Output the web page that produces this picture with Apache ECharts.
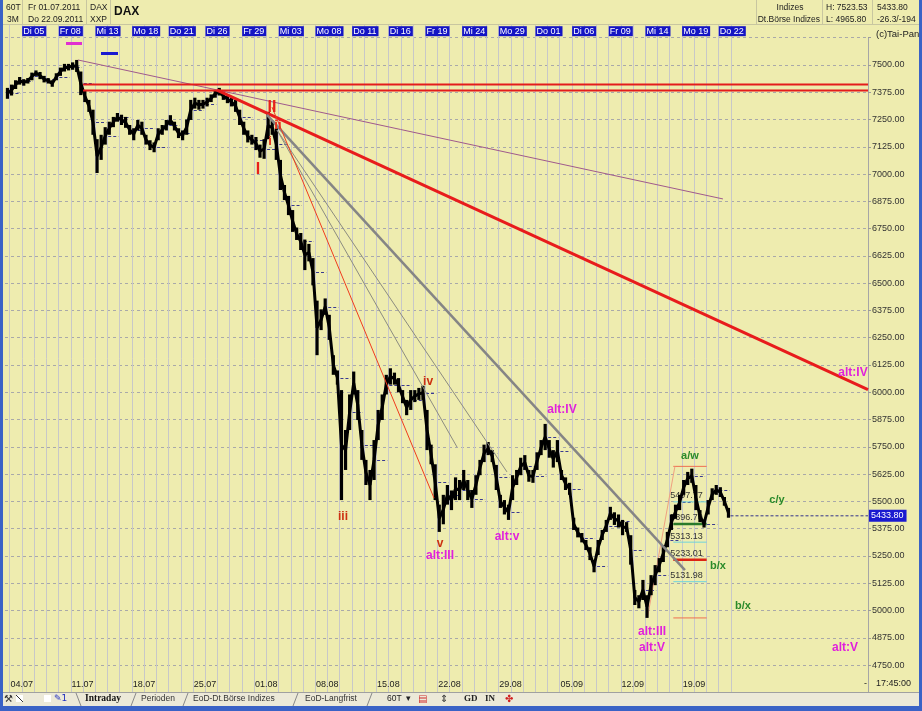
<!DOCTYPE html>
<html><head><meta charset="utf-8">
<script src="https://cdn.jsdelivr.net/npm/echarts/dist/echarts.min.js"></script>
<style>html,body{margin:0;padding:0;background:#EEECAF;overflow:hidden}#c{width:922px;height:711px}</style>
</head><body><div id="c"></div>
<script>
// ---------- DATA ----------
const tradingDays = ['01.07','04.07','05.07','06.07','07.07','08.07','11.07','12.07','13.07','14.07','15.07','18.07','19.07','20.07','21.07','22.07','25.07','26.07','27.07','28.07','29.07',
 '01.08','02.08','03.08','04.08','05.08','08.08','09.08','10.08','11.08','12.08','15.08','16.08','17.08','18.08','19.08','22.08','23.08','24.08','25.08','26.08','29.08','30.08','31.08',
 '01.09','02.09','05.09','06.09','07.09','08.09','09.09','12.09','13.09','14.09','15.09','16.09','19.09','20.09','21.09','22.09'];
// [low, high] per third of a trading day; first entry = last third of 01.07
const julyBars = [[7345,7395],[7360,7410],[7390,7430],[7410,7445],[7405,7435],[7415,7440],[7430,7465],[7450,7475],[7435,7468],[7420,7450],
 [7415,7440],[7400,7430],[7430,7462],[7450,7488],[7470,7505],[7475,7505],[7478,7512],[7468,7523],[7362,7470],[7330,7385],
 [7285,7340],[7180,7295],[7005,7160],[7065,7180],[7135,7215],[7180,7240],[7215,7262],[7240,7280],[7225,7272],[7212,7262],
 [7180,7225],[7155,7210],[7200,7248],[7180,7240],[7135,7180],[7110,7155],[7100,7145],[7155,7210],[7180,7225],[7200,7248],
 [7225,7270],[7200,7240],[7165,7210],[7155,7200],[7180,7250],[7248,7340],[7300,7350],[7295,7340],[7300,7340],[7310,7350],
 [7330,7365],[7350,7385],[7360,7395],[7340,7375],[7325,7362],[7310,7350],[7285,7340],[7225,7295],[7180,7240],[7145,7200],[7135,7180]];
const augustBars = [[7110,7170],[7075,7135],[7070,7160],[7160,7285],[7180,7245],[7065,7210],[6927,7065],[6881,6950],[6812,6900],[6735,6835],
 [6698,6755],[6652,6730],[6560,6700],[6600,6680],[6490,6615],[6170,6420],[6285,6380],[6355,6430],[6240,6355],[6080,6170],
 [6035,6100],[5506,6010],[5644,5827],[5827,5990],[5990,6095],[5873,6010],[5690,5827],[5575,5690],[5506,5644],[5598,5781],
 [5781,5919],[5873,5990],[5990,6080],[6035,6110],[6035,6090],[6000,6065],[5950,6010],[5895,5965],[5919,6010],[5955,6010],
 [5965,6020],[5965,6030],[5735,5919],[5670,5760],[5506,5670],[5360,5485],[5395,5530],[5485,5575],[5460,5550],[5506,5610],
 [5506,5598],[5552,5644],[5506,5598],[5470,5552],[5530,5620],[5620,5690],[5680,5760],[5712,5772],[5680,5735],[5552,5667],
 [5470,5530],[5440,5506],[5415,5485],[5506,5620],[5575,5644],[5620,5700],[5644,5712],[5590,5644],[5585,5644]];
const septemberBars = [[5644,5725],[5712,5781],[5735,5855],[5700,5781],[5655,5735],[5680,5781],[5598,5644],[5552,5610],[5530,5585],[5369,5425],
 [5335,5380],[5312,5355],[5277,5323],[5231,5290],[5175,5231],[5254,5323],[5323,5369],[5360,5415],[5415,5475],[5392,5450],
 [5380,5440],[5345,5415],[5360,5405],[5210,5345],[5025,5094],[5010,5070],[5048,5140],[4966,5070],[5070,5162],[5116,5208],
 [5175,5240],[5222,5300],[5290,5360],[5369,5440],[5420,5485],[5460,5530],[5530,5598],[5575,5635],[5585,5650],[5460,5575],
 [5405,5460],[5380,5415],[5440,5506],[5506,5560],[5530,5575],[5520,5565],[5480,5520],[5425,5470]];
const topTickLabels = [['05.07','Di 05'],['08.07','Fr 08'],['13.07','Mi 13'],['18.07','Mo 18'],['21.07','Do 21'],['26.07','Di 26'],['29.07','Fr 29'],
 ['03.08','Mi 03'],['08.08','Mo 08'],['11.08','Do 11'],['16.08','Di 16'],['19.08','Fr 19'],['24.08','Mi 24'],['29.08','Mo 29'],
 ['01.09','Do 01'],['06.09','Di 06'],['09.09','Fr 09'],['14.09','Mi 14'],['19.09','Mo 19'],['22.09','Do 22']];
const bottomTickLabels = ['04.07','11.07','18.07','25.07','01.08','08.08','15.08','22.08','29.08','05.09','12.09','19.09'];
const lastPrice = 5433.80, periodHigh = 7523.53, periodLow = 4965.80;
// trend lines: [tradingDayPosition, price]
const purpleLine = [[6.6,7523],[59.38,6886]];
const resistanceUpper = [[7.02,7411],[71.25,7411]];
const resistanceLower = [[7.02,7383],[71.25,7383]];
const mainDownTrend = [[17.98,7385],[71.25,6012]];
const greyTrend = [[22.07,7271],[56.27,5185]];
const fanLineA = [[22.89,7202],[37.62,5749]];
const fanLineB = [[22.89,7202],[41.71,5635]];
const redFanLine = [[22.48,7307],[35.74,5515]];
const fibAnchor = [[53.2,4966],[55.45,5660]];
const fibLevels = [5660.46,5497.77,5396.70,5313.13,5233.01,5131.98,4965.80];
const fibTexts = ['','5497.77','5396.70','5313.13','5233.01','5131.98',''];
const fibSpan = [55.32,58.05];
const impulseLabels = [[21.33,7019,'I'],[22.48,7303,'II']];
const minorLabels = [[22.32,7150,'i'],[22.97,7225,'ii']];
const subwaveLabels = [[28.29,5428,'iii'],[35.25,6047,'iv'],[36.23,5305,'v']];
const altLabels = [[36.23,5250,'alt:III'],[41.71,5337,'alt:v'],[46.21,5919,'alt:IV'],[53.58,4901,'alt:III'],[53.58,4828,'alt:V'],[70.02,6088,'alt:IV'],[69.37,4828,'alt:V']];
const correctionLabels = [[56.68,5708,'a/w'],[58.97,5204,'b/x'],[61.02,5020,'b/x'],[63.80,5506,'c/y']];

// ---------- BUILD ----------
const FONT = '"Liberation Sans", Arial, sans-serif';
const allBars = julyBars.concat(augustBars, septemberBars);
const firstSlot = 2, slotsPerDay = 3;
const barData = allBars.map((b,i)=>[(firstSlot+i)/slotsPerDay,(firstSlot+i+1)/slotsPerDay,b[0],b[1]]);
const midPath = barData.map(b=>[(b[0]+b[1])/2,(b[2]+b[3])/2]);
const closeData = [];
for (let d=0; d<tradingDays.length-1; d++){
  const i = d*slotsPerDay + (slotsPerDay-1) - firstSlot;
  if (i>=0 && i<allBars.length){ const b=allBars[i]; closeData.push([d+1,d+2,(b[0]+b[1])/2]); }
}
const dayBounds = tradingDays.map((_,i)=>[i]).concat([[tradingDays.length]]);
const topData = topTickLabels.map(t=>[tradingDays.indexOf(t[0]), t[1]]);
const bottomData = bottomTickLabels.map(t=>[tradingDays.indexOf(t), t]);

function textSeries(name, data, color, size, z){
  return {type:'custom', name, silent:true, clip:false, z:z||6, data: data.map(a=>[a[0],a[1]]),
    renderItem:(p,api)=>{const c=api.coord([api.value(0),api.value(1)]);
      return {type:'text', x:c[0], y:c[1], style:{text:data[p.dataIndex][2], fill:color, font:'bold '+size+'px '+FONT, align:'center', verticalAlign:'middle'}};}};
}
function seg(name,data,color,width,z){return {type:'line',name,data,symbol:'none',silent:true,z:z||4,lineStyle:{color,width},animation:false};}

const fibColors = ['#ee7050','#70d4dc','#2a7a2a','#70d4dc','#dc2414','#70d4dc','#ee7050'];
const fibWidths = [1,1,2.5,1,2.5,1,1];

const chart = echarts.init(document.getElementById('c'), null, {renderer:'canvas'});
const option = {
  backgroundColor:'#EEECAF', animation:false,
  grid:{left:5, right:54, top:37.7, bottom:18.7, containLabel:false},
  xAxis:{type:'value', min:0.6333, max:71.25, show:false},
  yAxis:{type:'value', position:'right', min:4625, max:7625, interval:125, scale:false,
    axisLine:{show:true, lineStyle:{color:'#a6a6a6'}},
    axisTick:{show:true, length:3, lineStyle:{color:'#9a9a9a'}},
    axisLabel:{margin:4, color:'#333', fontSize:9, fontFamily:FONT, formatter:v=>(v<4700||v>7600)?'':v.toFixed(2)},
    splitLine:{show:true, lineStyle:{color:'#a9a9a9', type:[3,3], width:1}}},
  series:[
    {type:'custom', name:'dayGrid', silent:true, clip:false, z:0, data:dayBounds,
     renderItem:(p,api)=>{const x=Math.round(api.coord([api.value(0),7625])[0])+0.5; const cs=p.coordSys;
       return {type:'line', shape:{x1:x,y1:cs.y-13,x2:x,y2:cs.y+cs.height}, style:{stroke:'#c8c8c8', lineWidth:1}};}},
    {type:'custom', name:'topLabels', silent:true, clip:false, z:2, data:topData.map(d=>[d[0]]),
     renderItem:(p,api)=>{const x=api.coord([api.value(0),7625])[0]; 
       return {type:'text', x:x+0.5, y:p.coordSys.y-6.5, style:{text:topData[p.dataIndex][1], fill:'#fff', font:'9px '+FONT, align:'left', verticalAlign:'middle', backgroundColor:'#1414c4', padding:[1,2,0,1]}};}},
    {type:'custom', name:'bottomLabels', silent:true, clip:false, z:2, data:bottomData.map(d=>[d[0]]),
     renderItem:(p,api)=>{const x=api.coord([api.value(0),7625])[0];
       return {type:'text', x:x+1, y:p.coordSys.y+p.coordSys.height-8, style:{text:bottomData[p.dataIndex][1], fill:'#222', font:'9px '+FONT, align:'left', verticalAlign:'middle'}};}},
    {type:'custom', name:'prevClose', silent:true, z:1, data:closeData,
     renderItem:(p,api)=>{const a=api.coord([api.value(0),api.value(2)]), b=api.coord([api.value(1),api.value(2)]);
       const y=Math.round(a[1])+0.5; return {type:'line', shape:{x1:a[0]+1,y1:y,x2:b[0]-1,y2:y}, style:{stroke:'#3a3a90', lineWidth:1, lineDash:[3,2]}};}},
    {type:'custom', name:'fib', silent:true, clip:false, z:1, data:fibLevels.map(v=>[v]),
     renderItem:(p,api)=>{const i=p.dataIndex; const a=api.coord([fibSpan[0],api.value(0)]), b=api.coord([fibSpan[1],api.value(0)]);
       const kids=[{type:'line', shape:{x1:a[0],y1:a[1],x2:b[0],y2:b[1]}, style:{stroke:fibColors[i], lineWidth:fibWidths[i]}}];
       if (fibTexts[i]) kids.push({type:'text', x:a[0]-3, y:a[1]-6, style:{text:fibTexts[i], fill:'#333', font:'9px '+FONT, align:'left', verticalAlign:'middle'}});
       return {type:'group', children:kids};}},
    seg('fibAnchor', fibAnchor, '#f0a080', 1, 2),
    {type:'line', name:'DAXpath', data:midPath, symbol:'none', silent:true, z:3, lineStyle:{color:'#000', width:3}},
    {type:'custom', name:'DAX', silent:true, z:3, data:barData,
     renderItem:(p,api)=>{const a=api.coord([api.value(0),api.value(3)]), b=api.coord([api.value(1),api.value(2)]);
       const cx=(a[0]+b[0])/2, w=3.2;
       return {type:'rect', shape:{x:cx-w/2, y:a[1], width:w, height:Math.max(1.5,b[1]-a[1])}, style:{fill:'#000'}};}},
    seg('purple', purpleLine, '#a05a8c', 1),
    seg('resUpper', resistanceUpper, '#e41c1c', 2),
    seg('resLower', resistanceLower, '#e41c1c', 2),
    seg('mainDown', mainDownTrend, '#e81c1c', 3),
    seg('greyTrend', greyTrend, '#858585', 2.5),
    seg('fanA', fanLineA, '#8c8c80', 1),
    seg('fanB', fanLineB, '#8c8c80', 1),
    seg('redFan', redFanLine, '#f03c1e', 1),
    {type:'line', name:'last', data:[[barData[barData.length-1][1],lastPrice],[71.25,lastPrice]], symbol:'none', silent:true, z:4,
     lineStyle:{color:'#30308a', width:1, type:[3,2]},
     endLabel:{show:true, formatter:lastPrice.toFixed(2), backgroundColor:'#1a1ad0', color:'#fff', fontSize:9, fontFamily:FONT, padding:[2,3,1,2], distance:1}},
    textSeries('impulse', impulseLabels, '#e8201a', 16),
    textSeries('minor', minorLabels, '#e8301a', 13),
    textSeries('sub', subwaveLabels, '#cc3010', 12),
    textSeries('alt', altLabels, '#e020dc', 12),
    textSeries('corr', correctionLabels, '#2a8a2a', 11)
  ],
  graphic:{elements:[]}
};
const G = option.graphic.elements;
const HF = '8.5px '+FONT;
const T=(x,y,text,o)=>G.push({type:'text', x, y, z:100, style:Object.assign({text, fill:'#222', font:HF, verticalAlign:'middle', align:'left'}, o||{})});
const L=(x1,y1,x2,y2,c,w)=>G.push({type:'line', z:99, shape:{x1,y1,x2,y2}, style:{stroke:c||'#b8b89a', lineWidth:w||1}});
const R=(x,y,w,h,c,z)=>G.push({type:'rect', z:z||98, shape:{x,y,width:w,height:h}, style:{fill:c}});
// header
L(0,24.5,922,24.5,'#c8c6a0');
L(22.5,0,22.5,24,'#c8c6a0'); L(86.5,0,86.5,24,'#c8c6a0'); L(110.5,0,110.5,24,'#c8c6a0');
L(756.5,0,756.5,24,'#c8c6a0'); L(822.5,0,822.5,24,'#c8c6a0'); L(872.5,0,872.5,24,'#c8c6a0');
T(6,8,'60T'); T(28,8,'Fr 01.07.2011'); T(90,8,'DAX'); T(114,12,'DAX',{font:'bold 12px '+FONT, fill:'#111'});
T(7,20,'3M'); T(28,20,'Do 22.09.2011'); T(90,20,'XXP');
T(790,8,'Indizes',{align:'center'}); T(820,20,'Dt.Börse Indizes',{align:'right'});
T(826,8,'H: '+periodHigh.toFixed(2)); T(826,20,'L: '+periodLow.toFixed(2));
T(877,8,lastPrice.toFixed(2)); T(877,20,'-26.3/-194');
T(876,34,'(c)Tai-Pan',{font:'9.5px '+FONT});
// markers
R(66,42,16,3,'#e030d0'); R(101,52,17,3,'#1a1ad0');
// bottom row
T(864,684,'-',{font:'9px '+FONT}); T(876,684,'17:45:00',{font:'9px '+FONT});
// tab bar
R(0,692,922,15,'#ECE9D8',97); L(0,692.5,922,692.5,'#a0a0a0');
T(4,699,'⚒',{fill:'#333',font:'10px "DejaVu Sans"'}); R(16,695,7,7,'#ffffff'); L(16,695,23,702,'#333');
R(44,695,7,7,'#ffffff'); T(54,699,'✎1',{fill:'#2030c0',font:'9px "DejaVu Sans"'});
L(76,693,81,706,'#888'); T(85,699,'Intraday',{font:'bold 9.5px "Liberation Serif", serif', fill:'#111'});
L(131,706,136,693,'#888'); T(141,699,'Perioden',{fill:'#333'});
L(183,706,188,693,'#888'); T(193,699,'EoD-Dt.Börse Indizes',{fill:'#333'});
L(293,706,298,693,'#888'); T(305,699,'EoD-Langfrist',{fill:'#333'});
L(367,706,372,693,'#888'); T(387,699,'60T  ▾',{fill:'#222'});
T(418,699,'▤',{fill:'#d03030',font:'10px "DejaVu Sans"'}); T(440,699,'⇕',{fill:'#333',font:'10px "DejaVu Sans"'});
T(464,699,'GD',{font:'bold 9px "Liberation Serif", serif'}); T(485,699,'IN',{font:'bold 9px "Liberation Serif", serif'});
T(505,699,'✤',{fill:'#d02020',font:'10px "DejaVu Sans"'});
// frame
R(0,0,3,711,'#3a62c6',101); R(919,0,3,711,'#3a62c6',101); R(0,706,922,5,'#3a62c6',101);
chart.setOption(option);
</script></body></html>
